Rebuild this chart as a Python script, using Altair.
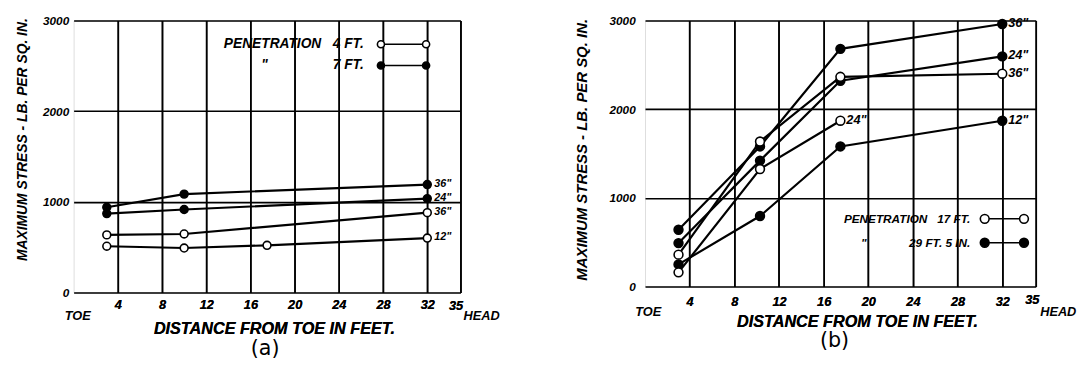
import json

import altair as alt
import pandas as pd

FONT = "Liberation Sans"
NB = "\u00a0"

# ---------------- panel (a): penetration 4 ft and 7 ft ----------------
A_CURVE = ["7ft-36", "7ft-24", "4ft-36", "4ft-12"]
A_PEN = ["7 FT.", "7 FT.", "4 FT.", "4 FT."]
A_TAG = ['36"', '24"', '36"', '12"']
A_DIST = [[3, 10, 32], [3, 10, 32], [3, 10, 32], [3, 10, 17.5, 32]]
A_STRESS = [
    [940, 1085, 1190],
    [870, 915, 1035],
    [635, 645, 880],
    [510, 490, 520, 600],
]
A_PENS = ["4 FT.", "7 FT."]

# ---------------- panel (b): penetration 17 ft and 29 ft 5 in ----------------
B_CURVE = ["29ft-36", "29ft-24", "29ft-12", "17ft-36", "17ft-24"]
B_PEN = ["29 FT. 5 IN.", "29 FT. 5 IN.", "29 FT. 5 IN.", "17 FT.", "17 FT."]
B_TAG = ['36"', '24"', '12"', '36"', '24"']
B_DIST = [
    [3, 10.3, 17.5, 32],
    [3, 10.3, 17.5, 32],
    [3, 10.3, 17.5, 32],
    [3, 10.3, 17.5, 32],
    [3, 10.3, 17.5],
]
B_STRESS = [
    [640, 1580, 2680, 2960],
    [490, 1420, 2320, 2595],
    [250, 795, 1580, 1870],
    [360, 1635, 2365, 2400],
    [160, 1325, 1870],
]
B_PENS = ["17 FT.", "29 FT. 5 IN."]

X_TICKS = [4, 8, 12, 16, 20, 24, 28, 32, 35]
X_ENDS = [0, 35]
X_END_NAMES = ["TOE", "HEAD"]
Y_TICKS = [0, 1000, 2000, 3000]


def long_table(curves, pens, tags, dists, stresses):
    rows = []
    for curve, pen, tag, xs, ys in zip(curves, pens, tags, dists, stresses):
        for i, (x, y) in enumerate(zip(xs, ys)):
            rows.append({
                "curve": curve,
                "pen": pen,
                "dist": x,
                "stress": y,
                "tag": tag if i == len(xs) - 1 else "",
            })
    return pd.DataFrame(rows)


def pair_symbol(half, r):
    """Legend key: two circles joined by a line (units of 8 px)."""
    a, b = half - r, half + r
    return (
        f"M {-b} 0 A {r} {r} 0 1 0 {-a} 0 A {r} {r} 0 1 0 {-b} 0 Z "
        f"M {-a} 0 L {a} 0 "
        f"M {a} 0 A {r} {r} 0 1 0 {b} 0 A {r} {r} 0 1 0 {a} 0 Z"
    )


def js(s):
    return json.dumps(s, ensure_ascii=False)


LABEL_STYLE = dict(
    labelFont=FONT, labelFontSize=13, labelFontStyle="italic",
    labelFontWeight="bold", labelColor="black", labelBaseline="middle",
    labelOverlap=False, labelFlush=False, labelBound=False,
    ticks=False, tickSize=0, domain=False,
)


def panel(df, pens, caption, geo):
    x_scale = alt.Scale(domain=[0, 35], nice=False, zero=False)
    # distance axis: numbers, grid and title
    x_axis = alt.Axis(
        orient="bottom", values=X_TICKS,
        title="DISTANCE FROM TOE IN FEET.",
        titleFont=FONT, titleFontSize=16.5, titleFontStyle="italic",
        titleFontWeight="bold", titleColor="black",
        titleX=geo["xtitle_x"], titleY=geo["xtitle_y"],
        titleBaseline="middle", titleAlign="center", titleAnchor="start",
        labelOffset={"condition": {"test": "datum.value == 35", "value": geo["n35_off"]},
                     "value": 0},
        labelPadding={"condition": {"test": "datum.value == 35", "value": geo["n35_pad"]},
                      "value": geo["num_pad"]},
        grid=True, gridColor="black", gridWidth=1.6, gridOpacity=1,
        **LABEL_STYLE,
    )
    # second axis on the same scale naming the two ends of the slab
    end_expr = " : ".join(
        f"datum.value == {v} ? {js(n)}" for v, n in zip(X_ENDS, X_END_NAMES)
    ) + " : ''"
    end_axis = alt.Axis(
        orient="bottom", values=X_ENDS, title=None, grid=False,
        labelExpr=end_expr, labelAlign="left",
        labelOffset={"condition": {"test": "datum.value == 35", "value": geo["head_off"]},
                     "value": geo["toe_off"]},
        labelPadding=geo["end_pad"],
        **LABEL_STYLE,
    )
    y_axis = alt.Axis(
        values=Y_TICKS, format="d",
        title="MAXIMUM STRESS - LB. PER SQ. IN.",
        titleFont=FONT, titleFontSize=geo["ytitle_size"], titleFontStyle="italic",
        titleFontWeight="bold", titleColor="black",
        titleAngle=270, titleX=geo["ytitle_x"], titleY=geo["ytitle_y"],
        titleBaseline="middle", titleAlign="left",
        labelFont=FONT, labelFontSize=12, labelFontStyle="italic",
        labelFontWeight="bold", labelColor="black",
        labelPadding=geo["ylab_pad"], labelBaseline="middle",
        labelOverlap=False, labelFlush=False,
        ticks=False, tickSize=0, domain=False,
        grid=True, gridColor="black", gridWidth=1.6, gridOpacity=1,
    )
    x = alt.X("dist:Q", scale=x_scale, axis=x_axis)
    x_end = alt.X("dist:Q", scale=x_scale, axis=end_axis)
    y = alt.Y("stress:Q", scale=alt.Scale(domain=[0, 3000], nice=False), axis=y_axis)

    first, second = pens
    label_expr = (
        f"datum.label == {js(first)} ? {js('PENETRATION' + NB * 3 + first)} : "
        f"{js(chr(34) + NB * geo['ditto_gap'] + second)}"
    )
    legend = alt.Legend(
        orient="none", legendX=geo["leg_x"], legendY=geo["leg_y"], title=None,
        direction="vertical", padding=0,
        symbolType=pair_symbol(geo["sym_half"], geo["sym_r"]), symbolSize=256,
        symbolStrokeColor="black", symbolStrokeWidth=1.6, symbolOpacity=1,
        labelExpr=label_expr, labelAlign="right", labelBaseline="middle",
        labelOffset={"expr": str(geo["leg_lab_off"])}, labelLimit=400,
        labelFont=FONT, labelFontSize=geo["leg_size"], labelFontStyle="italic",
        labelFontWeight="bold", labelColor="black",
        rowPadding=geo["row_pad"],
    )

    base = alt.Chart(df)
    lines = base.mark_line(color="black", strokeWidth=2.2).encode(
        x=x, y=y, detail="curve:N", order="dist:Q"
    )
    points = base.mark_point(
        shape="circle", filled=True, stroke="black", strokeWidth=1.6,
        size=geo["pt_size"], opacity=1,
    ).encode(
        x=x, y=y,
        fill=alt.Fill("pen:N", scale=alt.Scale(domain=pens, range=["white", "black"]),
                      legend=legend),
    )
    tags = base.transform_filter("datum.tag != ''").mark_text(
        align="left", baseline="middle", dx=geo["tag_dx"], dy=-1,
        font=FONT, fontSize=geo["tag_size"], fontStyle="italic",
        fontWeight="bold", color="black",
    ).encode(x=x_end, y=y, text="tag:N")

    return (
        alt.layer(lines, points, tags)
        .resolve_scale(x="independent")
        .resolve_axis(x="independent")
        .properties(
            width=geo["w"], height=geo["h"],
            title=alt.TitleParams(
                caption, orient="bottom", anchor="middle", font="DejaVu Sans",
                fontSize=21, fontWeight="normal", color="black",
                offset=geo["cap_off"], dx=geo["cap_dx"],
            ),
        )
    )


geo_a = dict(
    w=394, h=277, num_pad=12.8, n35_off=-5, n35_pad=13.8,
    toe_off=-9.5, head_off=2.6, end_pad=24,
    xtitle_x=204, xtitle_y=36.5, ytitle_x=-52, ytitle_y=244.5, ytitle_size=14.1,
    ylab_pad=5, leg_x=327, leg_y=15.2, sym_half=2.875, sym_r=0.45,
    leg_lab_off=-49.5, leg_size=14, row_pad=5.6, ditto_gap=17,
    pt_size=64, tag_dx=7, tag_size=11, cap_off=2, cap_dx=-2,
)
geo_b = dict(
    w=398, h=271, num_pad=15.5, n35_off=-4, n35_pad=13.5,
    toe_off=-10.5, head_off=4, end_pad=25,
    xtitle_x=216, xtitle_y=35.3, ytitle_x=-65, ytitle_y=264.5, ytitle_size=15.2,
    ylab_pad=10, leg_x=357, leg_y=193, sym_half=2.5, sym_r=0.56,
    leg_lab_off=-43.7, leg_size=12, row_pad=7.4, ditto_gap=13,
    pt_size=81, tag_dx=6, tag_size=13, cap_off=1, cap_dx=-6,
)

chart_a = panel(long_table(A_CURVE, A_PEN, A_TAG, A_DIST, A_STRESS), A_PENS, "(a)", geo_a)
chart_b = panel(long_table(B_CURVE, B_PEN, B_TAG, B_DIST, B_STRESS), B_PENS, "(b)", geo_b)

chart = (
    alt.hconcat(chart_a, chart_b, spacing=188, bounds="flush")
    .resolve_scale(fill="independent")
    .resolve_legend(fill="independent")
    .properties(padding={"left": 15, "top": 10.5, "right": 0, "bottom": 0})
    .configure_view(stroke="black", strokeWidth=2)
    .configure(background="white")
)

chart.save("out.html", embed_options={"renderer": "svg", "actions": False})
